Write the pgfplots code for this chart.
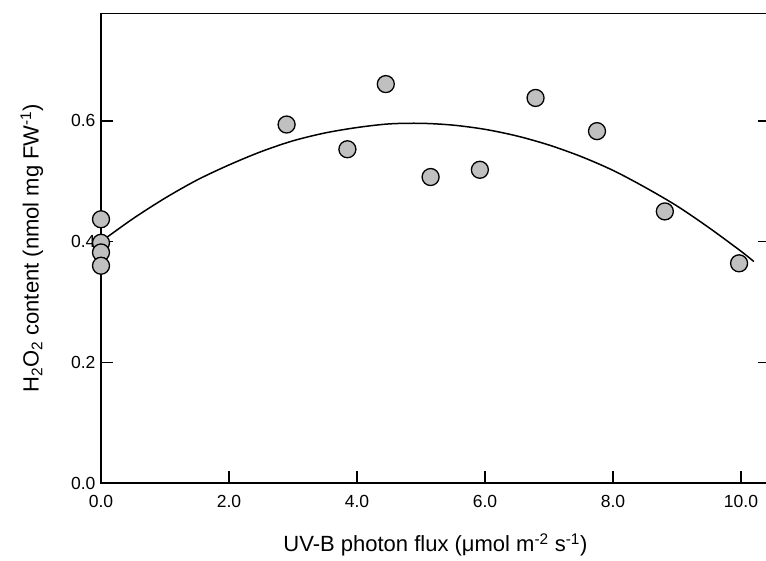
\documentclass[border=0pt]{standalone}
\usepackage{pgfplots}
\pgfplotsset{compat=1.18}
\usepackage{fontspec}
\setmainfont{Liberation Sans}
\definecolor{markgray}{RGB}{192,192,192}
\begin{document}
\begin{tikzpicture}
\begin{axis}[
  x=64pt, y=603.5pt,
  xmin=0, xmax=10.45, ymin=0, ymax=0.778,
  axis line style={line width=1.4pt},
  every tick/.style={line width=1.4pt, black},
  tick align=inside,
  major tick length=12pt,
  xtick={0,2,4,6,8,10},
  ytick={0,0.2,0.4,0.6},
  xtick pos=lower,
  ytick pos=both,
  minor tick num=0,
  clip=false,
  /pgf/number format/.cd, fixed, fixed zerofill, precision=1, assume math mode=true,
  /pgfplots/.cd,
  tick label style={font=\fontsize{17.5}{20}\selectfont},
  xticklabel style={yshift=-9pt},
  yticklabel style={xshift=-2pt},
  every axis x label/.style={at={(axis description cs:0.5,-0.1468)}, anchor=base, font=\fontsize{22}{26}\selectfont},
  every axis y label/.style={at={(axis description cs:-0.0932,0.5)}, rotate=90, anchor=base, font=\fontsize{22}{26}\selectfont},
  xlabel={UV-B photon flux (μmol m\textsuperscript{-2} s\textsuperscript{-1})},
  ylabel={H\textsubscript{2}O\textsubscript{2} content (nmol mg FW\textsuperscript{-1})},
]
\addplot[only marks, mark=*, mark size=8.5pt, mark options={fill=markgray, draw=black, line width=1.3pt}] coordinates {
  (0,0.437) (0,0.398) (0,0.382) (0,0.360)
  (2.90,0.594) (3.85,0.553) (4.45,0.661) (5.15,0.507) (5.92,0.519)
  (6.79,0.638) (7.75,0.583) (8.81,0.450) (9.97,0.364)
};
\addplot[black, line width=1.5pt, smooth, no marks] coordinates {
  (0,0.400) (0.5,0.438) (1,0.472) (1.5,0.502) (2,0.527) (2.5,0.549)
  (3,0.567) (3.5,0.580) (4,0.589) (4.5,0.595) (5,0.596) (5.5,0.593)
  (6,0.586) (6.5,0.575) (7,0.560) (7.5,0.541) (8,0.518) (8.5,0.490)
  (9,0.459) (9.5,0.423) (10,0.384) (10.2,0.367)
};
\end{axis}
\pgfresetboundingbox
\useasboundingbox ([shift={(-101pt,-78pt)}]current axis.south west) rectangle ++(766pt,561pt);
\end{tikzpicture}
\end{document}
